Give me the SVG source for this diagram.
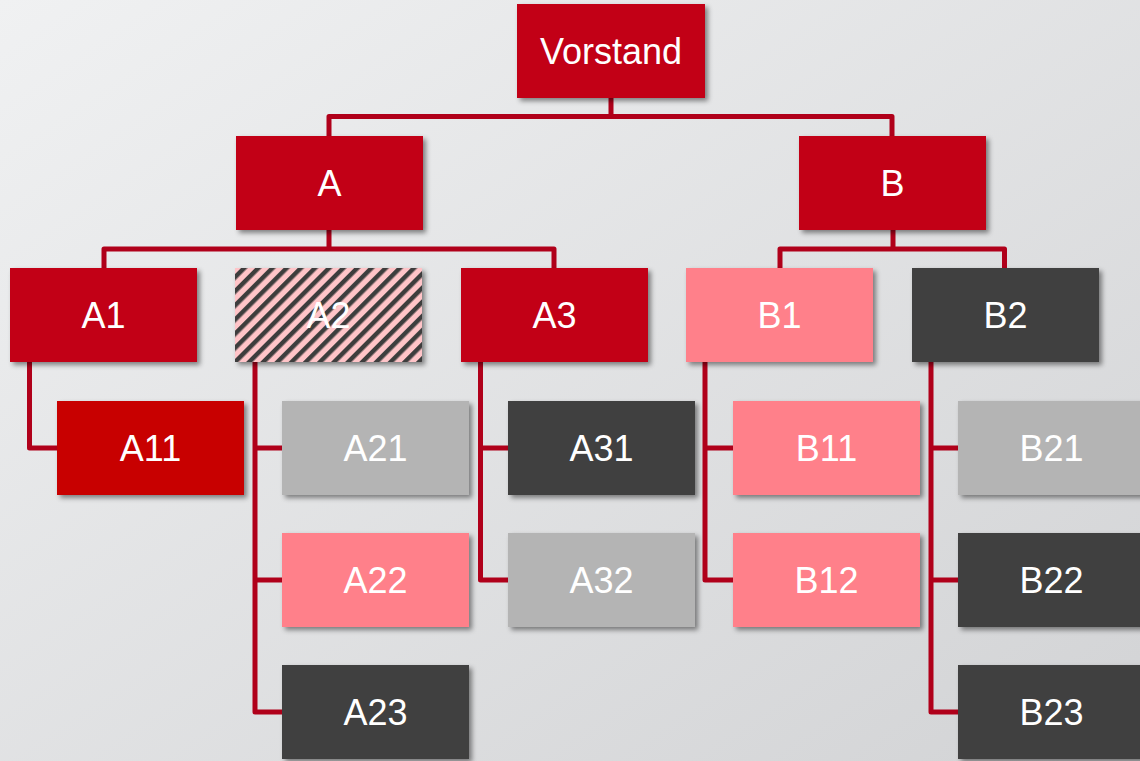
<svg xmlns="http://www.w3.org/2000/svg" width="1140" height="761" viewBox="0 0 1140 761">
<defs>
<linearGradient id="bg" x1="0" y1="0" x2="1" y2="1">
<stop offset="0" stop-color="#F0F1F2"/>
<stop offset="1" stop-color="#D2D3D5"/>
</linearGradient>
<filter id="sh" x="-10%" y="-10%" width="125%" height="130%">
<feDropShadow dx="3" dy="3" stdDeviation="2.5" flood-color="#000" flood-opacity="0.45"/>
</filter>
<pattern id="hatch" patternUnits="userSpaceOnUse" width="10" height="10" patternTransform="rotate(45)">
<rect width="10" height="10" fill="#FFC4C8"/>
<rect x="0" y="0" width="4.5" height="10" fill="#3C3C3C"/>
</pattern>
</defs>
<style>
.n{filter:url(#sh)}
.red{fill:#C20016}
.red2{fill:#C80000}
.pink{fill:#FF808A}
.gray{fill:#B4B4B4}
.dark{fill:#404040}
.t{font-family:"Liberation Sans",Arial,sans-serif;font-size:36px;fill:#FFFFFF;text-anchor:middle}
.c{fill:none;stroke:#B0001A;stroke-width:5;stroke-linejoin:round}
</style>
<rect width="1140" height="761" fill="url(#bg)"/>
<g id="connectors">
<path class="c" d="M611 98V116.5M329 136V116.5H892V136"/>
<path class="c" d="M329 229V249M104 268V249H554V268"/>
<path class="c" d="M893 229V249M780 268V249H1004.5V268"/>
<path class="c" d="M29.5 361V448H57"/>
<path class="c" d="M255 361V712H282M255 448H282M255 580H282"/>
<path class="c" d="M480.5 361V580H508M480.5 448H508"/>
<path class="c" d="M705 361V580H733M705 448H733"/>
<path class="c" d="M931 361V712H958M931 448H958M931 580H958"/>
</g>
<g id="Vorstand"><rect class="n red" x="517" y="4" width="188" height="94"/><text class="t" x="611" y="63.5">Vorstand</text></g>
<g id="A"><rect class="n red" x="236" y="136" width="187" height="94"/><text class="t" x="329.5" y="195.5">A</text></g>
<g id="B"><rect class="n red" x="799" y="136" width="187" height="94"/><text class="t" x="892.5" y="195.5">B</text></g>
<g id="A1"><rect class="n red" x="10" y="268" width="187" height="94"/><text class="t" x="103.5" y="328">A1</text></g>
<g id="A2"><rect class="n" x="235" y="268" width="187" height="94" fill="url(#hatch)"/><text class="t" x="328.5" y="328">A2</text></g>
<g id="A3"><rect class="n red" x="461" y="268" width="187" height="94"/><text class="t" x="554.5" y="328">A3</text></g>
<g id="B1"><rect class="n pink" x="686" y="268" width="187" height="94"/><text class="t" x="779.5" y="328">B1</text></g>
<g id="B2"><rect class="n dark" x="912" y="268" width="187" height="94"/><text class="t" x="1005.5" y="328">B2</text></g>
<g id="A11"><rect class="n red2" x="57" y="401" width="187" height="94"/><text class="t" x="150.5" y="461">A11</text></g>
<g id="A21"><rect class="n gray" x="282" y="401" width="187" height="94"/><text class="t" x="375.5" y="461">A21</text></g>
<g id="A31"><rect class="n dark" x="508" y="401" width="187" height="94"/><text class="t" x="601.5" y="461">A31</text></g>
<g id="B11"><rect class="n pink" x="733" y="401" width="187" height="94"/><text class="t" x="826.5" y="461">B11</text></g>
<g id="B21"><rect class="n gray" x="958" y="401" width="187" height="94"/><text class="t" x="1051.5" y="461">B21</text></g>
<g id="A22"><rect class="n pink" x="282" y="533" width="187" height="94"/><text class="t" x="375.5" y="593">A22</text></g>
<g id="A32"><rect class="n gray" x="508" y="533" width="187" height="94"/><text class="t" x="601.5" y="593">A32</text></g>
<g id="B12"><rect class="n pink" x="733" y="533" width="187" height="94"/><text class="t" x="826.5" y="593">B12</text></g>
<g id="B22"><rect class="n dark" x="958" y="533" width="187" height="94"/><text class="t" x="1051.5" y="593">B22</text></g>
<g id="A23"><rect class="n dark" x="282" y="665" width="187" height="94"/><text class="t" x="375.5" y="725">A23</text></g>
<g id="B23"><rect class="n dark" x="958" y="665" width="187" height="94"/><text class="t" x="1051.5" y="725">B23</text></g>
</svg>
